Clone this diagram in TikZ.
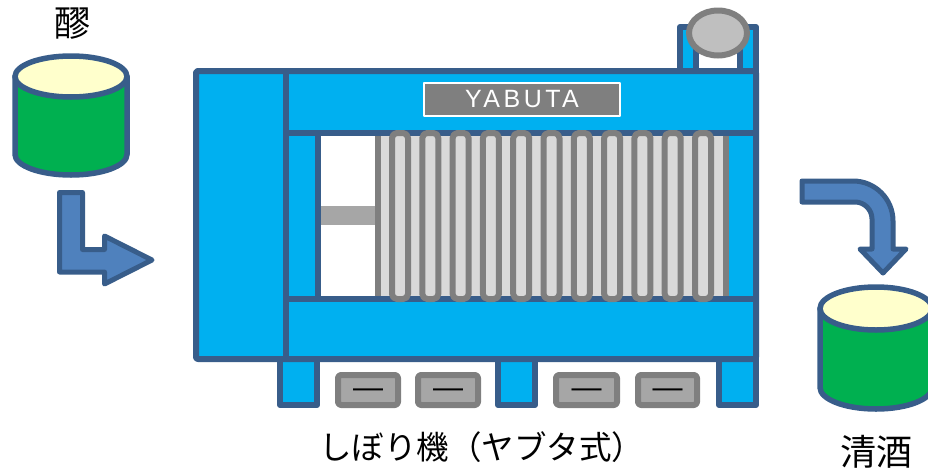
\documentclass[tikz,border=0pt]{standalone}
\usepackage{fontspec}
\newfontfamily\jp{Noto Sans CJK JP}
\newfontfamily\brand[LetterSpace=14]{Liberation Sans}
\newfontfamily\dashfont{Liberation Sans}
\definecolor{edge}{HTML}{385D8A}
\definecolor{machine}{HTML}{00B0F0}
\definecolor{platefill}{HTML}{D9D9D9}
\definecolor{platerim}{HTML}{7F7F7F}
\definecolor{rod}{HTML}{A6A6A6}
\definecolor{domefill}{HTML}{BFBFBF}
\definecolor{tankgreen}{HTML}{00B050}
\definecolor{tanktop}{HTML}{FFFFCC}
\definecolor{arrowfill}{HTML}{4F81BD}
\begin{document}
\begin{tikzpicture}[x=1pt,y=-1pt,line join=round,
  body/.style={fill=machine,draw=edge,line width=6pt},
  plate/.style={fill=platefill,draw=platerim,line width=6pt,rounded corners=5pt},
  trough/.style={fill=rod,draw=platerim,line width=6pt,rounded corners=3pt},
  tank/.style={fill=tankgreen,draw=edge,line width=5.5pt},
  tanklid/.style={fill=tanktop,draw=edge,line width=5.5pt},
  flow/.style={fill=arrowfill,draw=edge,line width=5pt},
  jlabel/.style={font=\jp\fontsize{36}{36}\selectfont,inner sep=0pt},
  presslabel/.style={font=\jp\fontsize{32.5}{32.5}\selectfont,inner sep=0pt},
  dashmark/.style={font=\dashfont\fontsize{30}{30}\selectfont,inner sep=0pt,anchor=base}]
\useasboundingbox (0,0) rectangle (928,472);

% pump on top of the press
\draw[body] (680,27) rectangle (756,73);
\draw[fill=white,draw=edge,line width=6pt] (696,40) rectangle (740,73);
\draw[fill=domefill,draw=platerim,line width=6pt] (718,33) ellipse [x radius=29,y radius=22.5];

% legs
\foreach \a/\b in {280/317,498/535,719/756}
  \draw[body] (\a,330) rectangle (\b,405);

% main frame
\draw[body,rounded corners=2pt] (196,71) rectangle (756,359);
\fill[white] (318,133) rectangle (378,299);
\fill[rod] (318,206) rectangle (375,225);

% plate pack
\fill[platefill] (378,133) rectangle (725.5,299);
\draw[platerim,line width=6pt] (378,133) -- (378,299) (725.5,133) -- (725.5,299);

% frame dividers
\draw[edge,line width=6pt] (286,71) -- (286,359)
  (283,133) -- (759,133) (283,299) -- (759,299) (318,133) -- (318,299);

% filter plates
\foreach \k in {0,...,10}
  \draw[plate] ({400+30.3*\k-8},133) rectangle ({400+30.3*\k+8},299);

% name plate
\node[fill=platerim,draw=white,line width=2pt,minimum width=196pt,minimum height=33pt,
  inner sep=0pt,text=white,font=\brand\fontsize{25}{25}\selectfont] (brand) at (522,99.5) {YABUTA};

% drain troughs
\foreach \a/\b [count=\i] in {338/398,418/478,556/617,638/697}{
  \draw[trough] (\a,375) rectangle (\b,405);
  \node[dashmark] (dash\i) at ({(\a+\b)/2},397) {—};
}

% moromi tank
\draw[tank] (15,76.5) -- (15,154.5) arc[start angle=180,end angle=0,x radius=56,y radius=20.5]
  -- (127,76.5) -- cycle;
\draw[tanklid] (71,76.5) ellipse [x radius=56,y radius=20.5];

% seishu tank
\draw[tank] (820,308.5) -- (820,387.5) arc[start angle=180,end angle=0,x radius=56,y radius=21.5]
  -- (932,308.5) -- cycle;
\draw[tanklid] (876,308.5) ellipse [x radius=56,y radius=21.5];

% flow arrows
\draw[flow] (59.5,192.5) -- (82.5,192.5) -- (82.5,249.5) -- (104.5,249.5) -- (104.5,236)
  -- (152,260) -- (104.5,284) -- (104.5,272) -- (59.5,272) -- cycle;
\draw[flow] (802,181) -- (853,181) arc[start angle=-90,end angle=0,radius=40]
  -- (893,249) -- (906,249) -- (883,273) -- (860,249) -- (872,249) -- (872,219)
  arc[start angle=0,end angle=-90,radius=17] -- (802,202) -- cycle;

% labels
\node[jlabel] (moromi) at (72.5,24) {醪};
\node[presslabel] (press) at (481.5,447) {しぼり機（ヤブタ式）};
\node[jlabel] (seishu) at (876,452) {清酒};
\end{tikzpicture}
\end{document}
